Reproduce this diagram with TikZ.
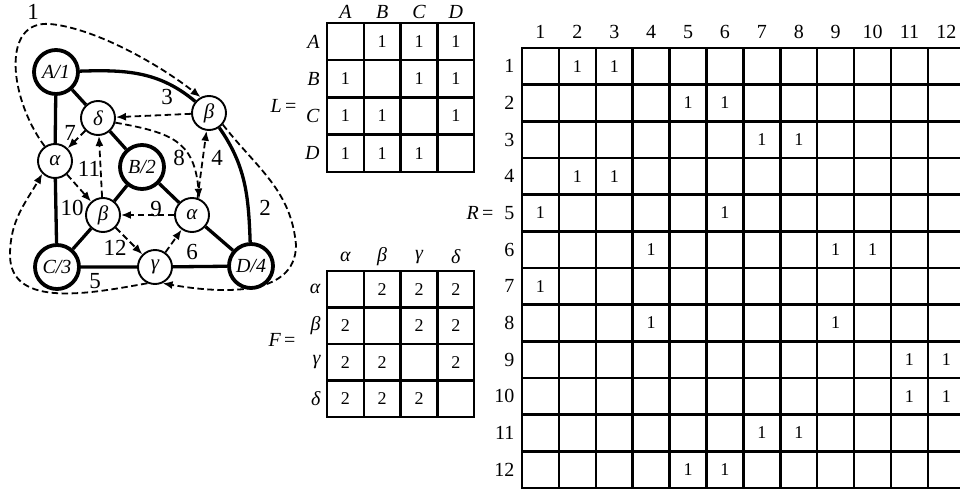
\documentclass[tikz,border=0pt]{standalone}
\usepackage{fontspec}
\setmainfont{Liberation Serif}
\usetikzlibrary{arrows.meta}
\tikzset{
    bignode/.style={circle, draw, fill=white, line width=3.8pt, minimum size=44pt, inner sep=0pt,
        font=\fontsize{20}{22}\selectfont\itshape},
    smallnode/.style={circle, draw, fill=white, line width=1.9pt, minimum size=34pt, inner sep=0pt,
        font=\fontsize{21}{23}\selectfont\itshape},
    thickedge/.style={line width=3.3pt},
    dashedge/.style={line width=1.8pt, dash pattern=on 6.5pt off 3.5pt, -{Latex[length=10pt,width=8pt]}},
    edgelabel/.style={font=\fontsize{23}{25}\selectfont},
    gridline/.style={line width=2.5pt, line cap=rect},
    headlabel/.style={font=\fontsize{20}{22}\selectfont},
    entry/.style={font=\fontsize{18}{20}\selectfont},
}
\begin{document}
\begin{tikzpicture}[x=1pt, y=1pt]
    \clip (0,0) rectangle (960,-495);

    % vertices and flags
    \node[bignode] (A) at (56,-72) {A/1};
    \node[bignode] (B) at (142,-167) {B/2};
    \node[bignode] (C) at (57,-267) {C/3};
    \node[bignode] (D) at (251,-266) {D/4};
    \node[smallnode] (de) at (98,-118) {δ};
    \node[smallnode] (be1) at (209,-113) {β};
    \node[smallnode] (al1) at (55,-161) {α};
    \node[smallnode] (be2) at (103,-215) {β};
    \node[smallnode] (al2) at (192,-215) {α};
    \node[smallnode] (ga) at (155,-267) {γ};

    \draw[thickedge] (A) -- (al1) (al1) -- (C);
    \draw[thickedge] (A) -- (de) (de) -- (B);
    \draw[thickedge] (B) -- (be2) (be2) -- (C);
    \draw[thickedge] (B) -- (al2) (al2) -- (D);
    \draw[thickedge] (C) -- (ga) (ga) -- (D);
    \draw[thickedge] (A) to[out=2, in=140] (be1) (be1) to[out=-55, in=92] (D);

    % dashed arcs
    \draw[dashedge] (al1.125) .. controls (10,-100) and (0,-20) .. (50,-24)
        .. controls (95,-28) and (160,-65) .. (be1.118);
    \draw[dashedge] (be1.-40) to[out=-52, in=95] (296,-245) to[out=-90, in=-10] (ga.-65);
    \draw[dashedge] (be1) -- (de);
    \draw[dashedge] (al2.72) -- (be1.-98);
    \draw[dashedge] (ga.-115) to[out=-170, in=-90] (10,-255) to[out=90, in=-120] (al1.-135);
    \draw[dashedge] (ga) -- (al2);
    \draw[dashedge] (de) -- (al1);
    \draw[dashedge] (de.-15) to[out=-10, in=95, looseness=1.3] (al2.66);
    \draw[dashedge] (al2) -- (be2);
    \draw[dashedge] (al1) -- (be2);
    \draw[dashedge] (be2) -- (de);
    \draw[dashedge] (be2) -- (ga);

    \node[edgelabel] (l1) at (33,-12) {1};
    \node[edgelabel] (l2) at (265,-208) {2};
    \node[edgelabel] (l3) at (167,-97) {3};
    \node[edgelabel] (l4) at (217,-158) {4};
    \node[edgelabel] (l5) at (95,-281) {5};
    \node[edgelabel] (l6) at (192,-252) {6};
    \node[edgelabel] (l7) at (70,-133) {7};
    \node[edgelabel] (l8) at (179,-158) {8};
    \node[edgelabel] (l9) at (156,-209) {9};
    \node[edgelabel] (l10) at (72,-208) {10};
    \node[edgelabel] (l11) at (89,-169) {11};
    \node[edgelabel] (l12) at (115,-248) {12};

    % matrix L
    \foreach \i in {0,...,4} {
        \draw[gridline] ({327+36.8*\i},-23) -- ({327+36.8*\i},-171.8);
        \draw[gridline] (327,{-23-37.2*\i}) -- (474.2,{-23-37.2*\i});
    }
    \foreach \t [count=\i] in {A,B,C,D} {
        \node[headlabel] (Lc\i) at ({327+36.8*(\i-0.5)},-12) {\itshape\t};
        \node[headlabel, anchor=east] (Lr\i) at (323,{-23-37.2*(\i-0.5)}) {\itshape\t};
    }
    \foreach \r in {1,...,4}
        \foreach \c in {1,...,4} {
            \ifnum\r=\c\else
                \node[entry] (L\r-\c) at ({327+36.8*(\c-0.5)},{-23-37.2*(\r-0.5)}) {1};
            \fi
        }
    \node[headlabel, anchor=east] (Lname) at (300,-106) {\itshape L\upshape\,=};

    % matrix F
    \foreach \i in {0,...,4} {
        \draw[gridline] ({327+36.8*\i},-271) -- ({327+36.8*\i},-417);
        \draw[gridline] (327,{-271-36.5*\i}) -- (474.2,{-271-36.5*\i});
    }
    \foreach \t [count=\i] in {α,β,γ,δ} {
        \node[headlabel] (Fc\i) at ({327+36.8*(\i-0.5)},-257) {\itshape\t};
        \node[headlabel, anchor=east] (Fr\i) at (324,{-271-36.5*(\i-0.5)}) {\itshape\t};
    }
    \foreach \r in {1,...,4}
        \foreach \c in {1,...,4} {
            \ifnum\r=\c\else
                \node[entry] (F\r-\c) at ({327+36.8*(\c-0.5)},{-271-36.5*(\r-0.5)}) {2};
            \fi
        }
    \node[headlabel, anchor=east] (Fname) at (299,-340) {\itshape F\upshape\,=};

    % matrix R
    \foreach \i in {0,...,12} {
        \draw[gridline] ({522+36.9*\i},-48) -- ({522+36.9*\i},-488);
        \draw[gridline] (522,{-48-36.67*\i}) -- (970,{-48-36.67*\i});
    }
    \foreach \i in {1,...,12} {
        \node[headlabel] (Rc\i) at ({522+36.9*(\i-0.5)},-32) {\i};
        \node[headlabel, anchor=east] (Rr\i) at (518,{-48-36.67*(\i-0.5)}) {\i};
    }
    \foreach \r/\cols in {1/{2,3}, 2/{5,6}, 3/{7,8}, 4/{2,3}, 5/{1,6}, 6/{4,9,10},
                          7/{1}, 8/{4,9}, 9/{11,12}, 10/{11,12}, 11/{7,8}, 12/{5,6}}
        \foreach \c in \cols
            \node[entry] (R\r-\c) at ({522+36.9*(\c-0.5)},{-48-36.67*(\r-0.5)}) {1};
    \node[headlabel, anchor=east] (Rname) at (497,-213) {\itshape R\upshape\,=};
\end{tikzpicture}
\end{document}
